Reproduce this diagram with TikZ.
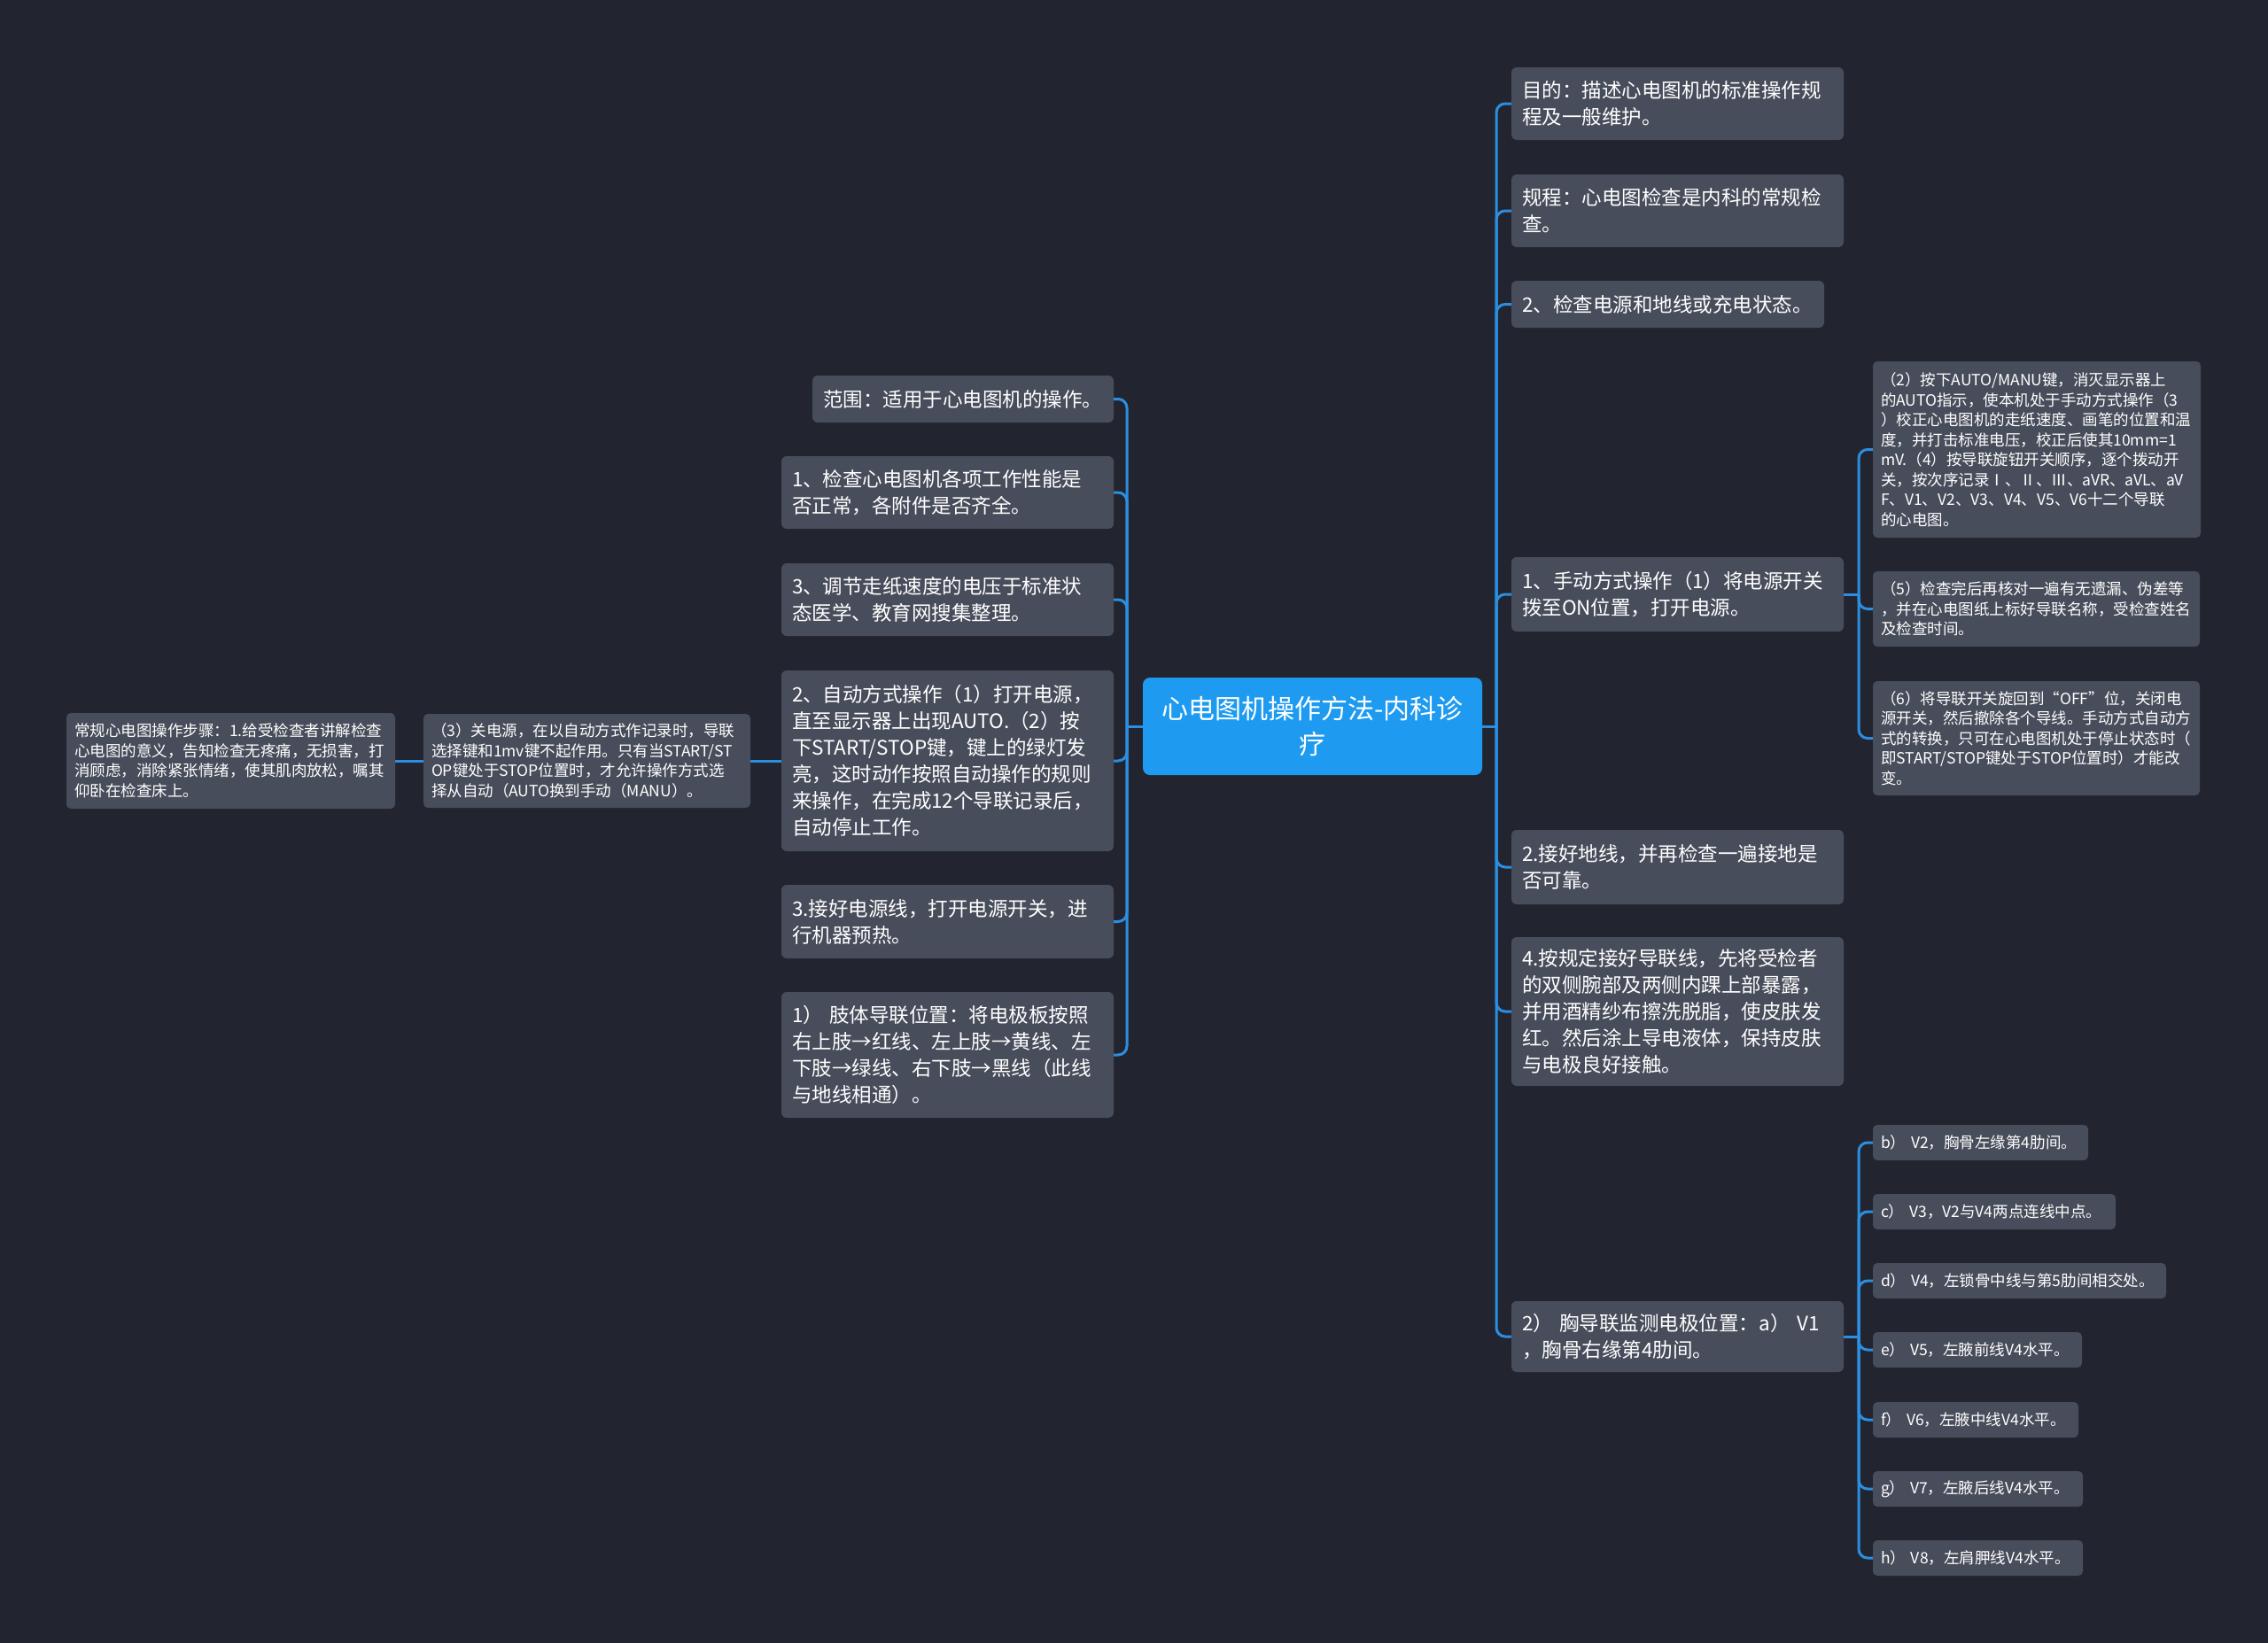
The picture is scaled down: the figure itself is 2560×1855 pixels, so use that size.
\documentclass[tikz,border=0pt]{standalone}
\usepackage{fontspec}
\setmainfont{Noto Sans CJK SC}
\definecolor{bgc}{HTML}{22252F}
\definecolor{nodef}{HTML}{484D5B}
\definecolor{centf}{HTML}{1E9BF0}
\definecolor{linec}{HTML}{2B8EE0}
\begin{document}
\begin{tikzpicture}[x=1pt,y=-1pt,
  conn/.style={draw=linec, line width=3pt, rounded corners=10pt},
  mainbox/.style={fill=nodef, rounded corners=6pt, text=white, align=left,
    font=\fontsize{22.5}{30}\selectfont, inner xsep=12pt, inner ysep=0pt},
  smallbox/.style={fill=nodef, rounded corners=5pt, text=white, align=left,
    font=\fontsize{17.5}{22.5}\selectfont, inner xsep=9pt, inner ysep=0pt},
  centerbox/.style={fill=centf, rounded corners=8pt, text=white, align=center,
    font=\fontsize{30}{40}\selectfont, inner xsep=12pt, inner ysep=0pt}]
\fill[bgc] (0,0) rectangle (2560,1855);
\useasboundingbox (0,0) rectangle (2560,1855);

\coordinate (RT) at (1689,0);
\coordinate (LT) at (1272,0);
\coordinate (ST) at (2098,0);

% centre
\node[centerbox, text width=359pt, minimum height=110pt] (C) at (1481.5,820)
  {心电图机操作方法-内科诊\\疗};

% right main
\node[mainbox, text width=351pt, minimum height=82pt] (R1) at (1893.5,117)
  {目的：描述心电图机的标准操作规\\程及一般维护。};
\node[mainbox, text width=351pt, minimum height=82pt] (R2) at (1893.5,238)
  {规程：心电图检查是内科的常规检\\查。};
\node[mainbox, text width=329pt, minimum height=53pt] (R3) at (1882.5,343.5)
  {2、检查电源和地线或充电状态。};
\node[mainbox, text width=351pt, minimum height=84pt] (R4) at (1893.5,671)
  {1、手动方式操作（1）将电源开关\\拨至ON位置，打开电源。};
\node[mainbox, text width=351pt, minimum height=84pt] (R5) at (1893.5,979)
  {2.接好地线，并再检查一遍接地是\\否可靠。};
\node[mainbox, text width=351pt, minimum height=168pt] (R6) at (1893.5,1142)
  {4.按规定接好导联线，先将受检者\\的双侧腕部及两侧内踝上部暴露，\\并用酒精纱布擦洗脱脂，使皮肤发\\红。然后涂上导电液体，保持皮肤\\与电极良好接触。};
\node[mainbox, text width=351pt, minimum height=80pt] (R7) at (1893.5,1509)
  {2）\ 胸导联监测电极位置：a）\ V1\\，胸骨右缘第4肋间。};

% left main
\node[mainbox, text width=316pt, minimum height=53pt] (L1) at (1087,450.5)
  {范围：适用于心电图机的操作。};
\node[mainbox, text width=351pt, minimum height=82pt] (L2) at (1069.5,556)
  {1、检查心电图机各项工作性能是\\否正常，各附件是否齐全。};
\node[mainbox, text width=351pt, minimum height=82pt] (L3) at (1069.5,677)
  {3、调节走纸速度的电压于标准状\\态医学、教育网搜集整理。};
\node[mainbox, text width=351pt, minimum height=204pt] (L4) at (1069.5,859)
  {2、自动方式操作（1）打开电源，\\直至显示器上出现AUTO.（2）按\\下START/STOP键，键上的绿灯发\\亮，这时动作按照自动操作的规则\\来操作，在完成12个导联记录后，\\自动停止工作。};
\node[mainbox, text width=351pt, minimum height=83pt] (L5) at (1069.5,1040.5)
  {3.接好电源线，打开电源开关，进\\行机器预热。};
\node[mainbox, text width=351pt, minimum height=142pt] (L6) at (1069.5,1191)
  {1）\ 肢体导联位置：将电极板按照\\右上肢→红线、左上肢→黄线、左\\下肢→绿线、右下肢→黑线（此线\\与地线相通）。};

% far left
\node[smallbox, text width=351pt, minimum height=106pt] (G3) at (662.5,859)
  {（3）关电源，在以自动方式作记录时，导联\\选择键和1mv键不起作用。只有当START/ST\\OP键处于STOP位置时，才允许操作方式选\\择从自动（AUTO换到手动（MANU）。};
\node[smallbox, text width=353pt, minimum height=108pt] (G0) at (260.5,859)
  {常规心电图操作步骤：1.给受检查者讲解检查\\心电图的意义，告知检查无疼痛，无损害，打\\消顾虑，消除紧张情绪，使其肌肉放松，嘱其\\仰卧在检查床上。};

% right small (manual)
\node[smallbox, text width=352pt, minimum height=199pt] (S2) at (2299,507.5)
  {（2）按下AUTO/MANU键，消灭显示器上\\的AUTO指示，使本机处于手动方式操作（3\\）校正心电图机的走纸速度、画笔的位置和温\\度，并打击标准电压，校正后使其10mm=1\\mV.（4）按导联旋钮开关顺序，逐个拨动开\\关，按次序记录Ⅰ、Ⅱ、Ⅲ、aVR、aVL、aV\\F、V1、V2、V3、V4、V5、V6十二个导联\\的心电图。};
\node[smallbox, text width=351pt, minimum height=85pt] (S5) at (2298.5,687.5)
  {（5）检查完后再核对一遍有无遗漏、伪差等\\，并在心电图纸上标好导联名称，受检查姓名\\及检查时间。};
\node[smallbox, text width=351pt, minimum height=129pt] (S6) at (2298.5,833.5)
  {（6）将导联开关旋回到“OFF”位，关闭电\\源开关，然后撤除各个导线。手动方式自动方\\式的转换，只可在心电图机处于停止状态时（\\即START/STOP键处于STOP位置时）才能改\\变。};

% right small (chest leads)
\node[smallbox, text width=225pt, minimum height=40pt] (Pb) at (2235.5,1290) {b）\ V2，胸骨左缘第4肋间。};
\node[smallbox, text width=256pt, minimum height=40pt] (Pc) at (2251,1368) {c）\ V3，V2与V4两点连线中点。};
\node[smallbox, text width=313pt, minimum height=40pt] (Pd) at (2279.5,1446) {d）\ V4，左锁骨中线与第5肋间相交处。};
\node[smallbox, text width=218pt, minimum height=40pt] (Pe) at (2232,1524) {e）\ V5，左腋前线V4水平。};
\node[smallbox, text width=214pt, minimum height=40pt] (Pf) at (2230,1603) {f）\ V6，左腋中线V4水平。};
\node[smallbox, text width=219pt, minimum height=40pt] (Pg) at (2232.5,1681) {g）\ V7，左腋后线V4水平。};
\node[smallbox, text width=219pt, minimum height=40pt] (Ph) at (2232.5,1759) {h）\ V8，左肩胛线V4水平。};

% connectors
\begin{scope}[on background layer/.style={}]
\draw[conn] (C.east) -- (C.east -| RT);
\foreach \n in {R1,R2,R3,R4,R5,R6,R7}
  \draw[conn] (C.east -| RT) -- (RT |- \n.west) -- (\n.west);
\draw[conn] (C.west) -- (C.west -| LT);
\foreach \n in {L1,L2,L3,L4,L5,L6}
  \draw[conn] (C.west -| LT) -- (LT |- \n.east) -- (\n.east);
\draw[conn] (L4.west) -- (G3.east);
\draw[conn] (G3.west) -- (G0.east);
\draw[conn] (R4.east) -- (R4.east -| ST);
\foreach \n in {S2,S5,S6}
  \draw[conn] (R4.east -| ST) -- (ST |- \n.west) -- (\n.west);
\draw[conn] (R7.east) -- (R7.east -| ST);
\foreach \n in {Pb,Pc,Pd,Pe,Pf,Pg,Ph}
  \draw[conn] (R7.east -| ST) -- (ST |- \n.west) -- (\n.west);
\end{scope}
\end{tikzpicture}
\end{document}
